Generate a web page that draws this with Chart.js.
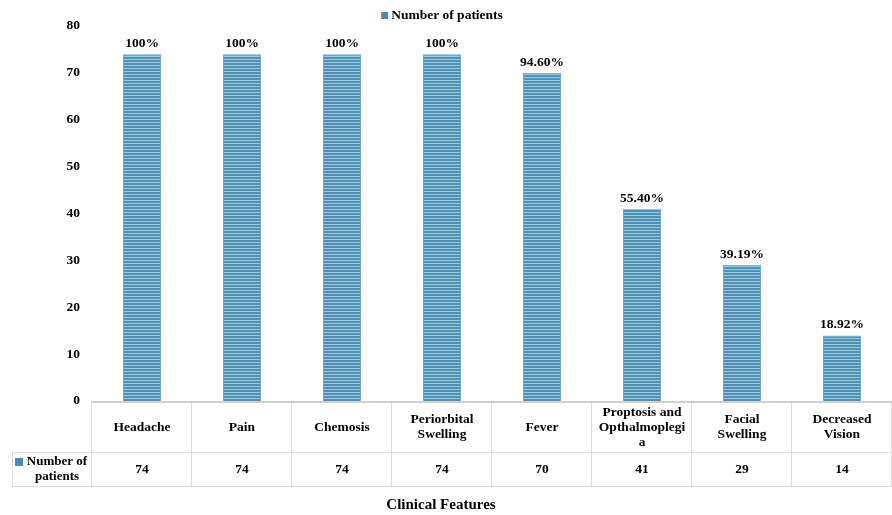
<!DOCTYPE html>
<html lang="en">
<head>
    <meta charset="UTF-8">
    <title>Clinical Features</title>
    <script src="https://cdn.jsdelivr.net/npm/chart.js"></script>
    <style>
        html, body { margin: 0; padding: 0; background: #fff; }
        #wrap { width: 892px; height: 515px; }
    </style>
</head>
<body>
<div id="wrap"><canvas id="featuresChart" width="892" height="515"></canvas></div>
<script>
    const categories = [
        ['Headache'], ['Pain'], ['Chemosis'], ['Periorbital', 'Swelling'], ['Fever'],
        ['Proptosis and', 'Opthalmoplegi', 'a'], ['Facial', 'Swelling'], ['Decreased', 'Vision']
    ];
    const patientCounts = [74, 74, 74, 74, 70, 41, 29, 14];
    const percentLabels = ['100%', '100%', '100%', '100%', '94.60%', '55.40%', '39.19%', '18.92%'];
    const seriesName = 'Number of patients';
    const axisTitle = 'Clinical Features';

    const FONT = '"Liberation Serif", "Times New Roman", serif';
    const KEY_COLOR = '#4a8bb0';

    function stripePattern() {
        const c = document.createElement('canvas');
        c.width = 4; c.height = 3;
        const g = c.getContext('2d');
        g.fillStyle = '#4f90b4';
        g.fillRect(0, 0, 4, 2);
        g.fillStyle = '#9ccade';
        g.fillRect(0, 2, 4, 1);
        return g.createPattern(c, 'repeat');
    }

    // percent labels above bars
    const barLabels = {
        id: 'barLabels',
        afterDatasetsDraw(chart) {
            const ctx = chart.ctx;
            const meta = chart.getDatasetMeta(0);
            ctx.save();
            ctx.font = 'bold 13.5px ' + FONT;
            ctx.fillStyle = '#000';
            ctx.textAlign = 'center';
            ctx.textBaseline = 'bottom';
            meta.data.forEach((bar, i) => {
                ctx.fillText(percentLabels[i], bar.x, bar.y - 4);
            });
            ctx.restore();
        }
    };

    // legend on top + data table under the plot
    const dataTable = {
        id: 'dataTable',
        afterDraw(chart) {
            const ctx = chart.ctx;
            const x = chart.scales.x;
            const area = chart.chartArea;
            const left = area.left, right = area.right;
            const top = area.bottom, mid = top + 51, bot = mid + 34;
            const step = (right - left) / categories.length;
            ctx.save();

            // legend
            ctx.font = 'bold 13.5px ' + FONT;
            ctx.textBaseline = 'middle';
            ctx.textAlign = 'left';
            const tw = ctx.measureText(seriesName).width;
            const lx0 = 442 - (tw + 10) / 2;
            ctx.fillStyle = KEY_COLOR;
            ctx.fillRect(lx0, 12, 7, 7);
            ctx.fillStyle = '#000';
            ctx.fillText(seriesName, lx0 + 10, 16);

            ctx.strokeStyle = '#d9d9d9';
            ctx.lineWidth = 1;
            ctx.beginPath();
            ctx.moveTo(12, mid + 0.5); ctx.lineTo(right, mid + 0.5);
            ctx.moveTo(12, bot + 0.5); ctx.lineTo(right, bot + 0.5);
            ctx.moveTo(12.5, mid); ctx.lineTo(12.5, bot);
            for (let i = 0; i <= categories.length; i++) {
                const lx = Math.round(left + i * step) - 0.5;
                ctx.moveTo(lx, top); ctx.lineTo(lx, bot);
            }
            ctx.stroke();
            // axis line
            ctx.strokeStyle = '#cfcfcf';
            ctx.lineWidth = 2;
            ctx.beginPath();
            ctx.moveTo(left, top + 1); ctx.lineTo(right, top + 1);
            ctx.stroke();

            ctx.fillStyle = '#000';
            ctx.textAlign = 'center';
            ctx.textBaseline = 'middle';
            const lh = 15;
            categories.forEach((lines, i) => {
                const cx = x.getPixelForValue(i);
                const cy = (top + mid) / 2 + 1;
                lines.forEach((t, j) => {
                    ctx.fillText(t, cx, cy + (j - (lines.length - 1) / 2) * lh);
                });
                ctx.fillText(String(patientCounts[i]), cx, (mid + bot) / 2 + 1);
            });
            // row header
            ctx.fillStyle = KEY_COLOR;
            ctx.fillRect(15, mid + 6, 8, 8);
            ctx.fillStyle = '#000';
            ctx.font = 'bold 13px ' + FONT;
            ctx.fillText('Number of', 57, mid + 10);
            ctx.fillText('patients', 57, mid + 25);

            // axis title
            ctx.font = 'bold 15px ' + FONT;
            ctx.fillText(axisTitle, 441, 505);
            ctx.restore();
        }
    };

    const chart = new Chart(document.getElementById('featuresChart'), {
        type: 'bar',
        data: {
            labels: categories,
            datasets: [{
                label: seriesName,
                data: patientCounts,
                backgroundColor: stripePattern(),
                borderColor: '#6fa9c9',
                borderWidth: 1,
                categoryPercentage: 1,
                barPercentage: 0.38
            }]
        },
        options: {
            responsive: false,
            animation: false,
            layout: { padding: { left: 0, right: 0, top: 26, bottom: 114 } },
            plugins: {
                legend: { display: false },
                tooltip: { enabled: false }
            },
            scales: {
                x: { display: false },
                y: {
                    min: 0,
                    max: 80,
                    ticks: {
                        stepSize: 10,
                        color: '#000',
                        font: { family: FONT, size: 13.5, weight: 'bold' },
                        padding: 12
                    },
                    grid: { display: false, drawTicks: false },
                    border: { display: false },
                    afterFit(scale) { scale.width = 92; }
                }
            }
        },
        plugins: [barLabels, dataTable]
    });
</script>
</body>
</html>
